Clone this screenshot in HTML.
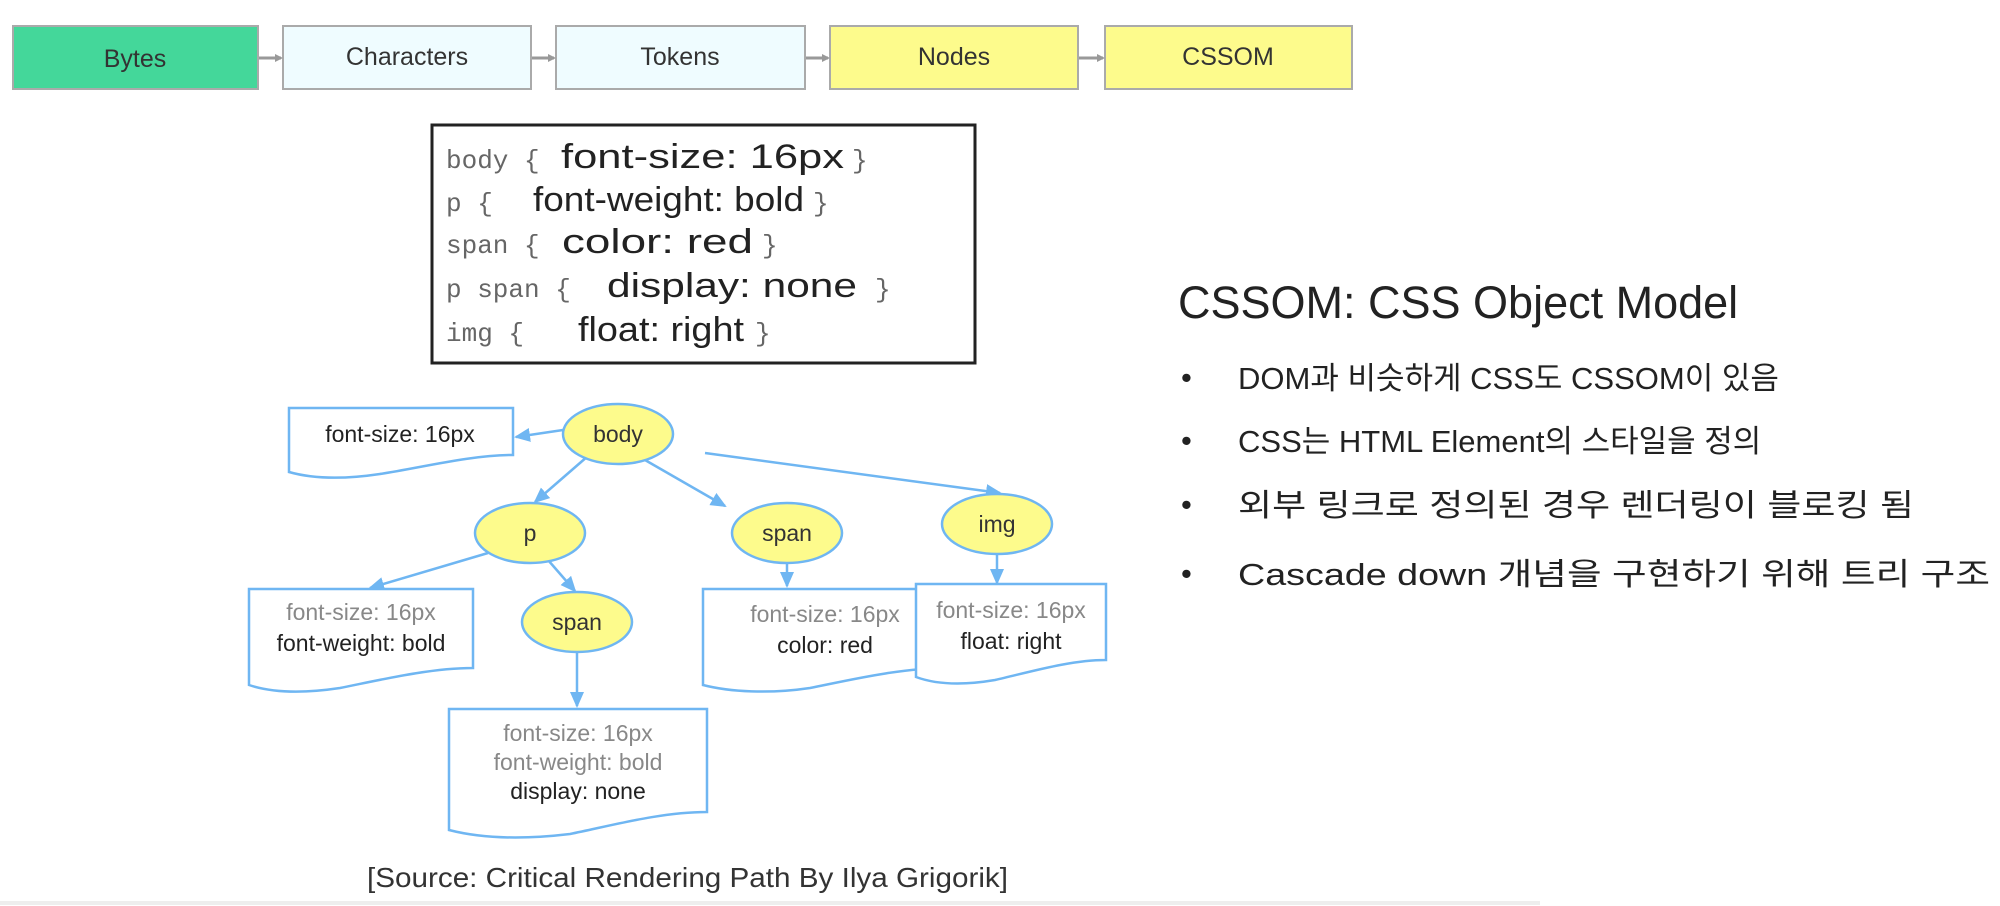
<!DOCTYPE html>
<html><head><meta charset="utf-8"><style>
html,body{margin:0;padding:0;background:#fff;width:2000px;height:906px;overflow:hidden}
svg text{font-family:"Liberation Sans","Noto Sans CJK KR",sans-serif}
svg text.m{font-family:"Liberation Mono",monospace}
</style></head><body>
<svg width="2000" height="906" viewBox="0 0 2000 906" xmlns="http://www.w3.org/2000/svg">
<defs>
<marker id="ga" markerWidth="8" markerHeight="8" refX="6" refY="4" orient="auto" markerUnits="userSpaceOnUse"><path d="M0,0 L8,4 L0,8 z" fill="#999"/></marker>
<marker id="ba" markerWidth="16" markerHeight="14" refX="14" refY="7" orient="auto" markerUnits="userSpaceOnUse"><path d="M0,0 L16,7 L0,14 z" fill="#6fb6f2"/></marker>
</defs>
<g font-size="25" fill="#333" text-anchor="middle">
<rect x="13" y="26" width="245" height="63" fill="#44d79a" stroke="#aaa" stroke-width="2"/>
<text x="135" y="67">Bytes</text>
<rect x="283" y="26" width="248" height="63" fill="#effcff" stroke="#aaa" stroke-width="2"/>
<text x="407" y="65">Characters</text>
<rect x="556" y="26" width="249" height="63" fill="#effcff" stroke="#aaa" stroke-width="2"/>
<text x="680" y="65">Tokens</text>
<rect x="830" y="26" width="248" height="63" fill="#fdfb8c" stroke="#aaa" stroke-width="2"/>
<text x="954" y="65">Nodes</text>
<rect x="1105" y="26" width="247" height="63" fill="#fdfb8c" stroke="#aaa" stroke-width="2"/>
<text x="1228" y="65">CSSOM</text>
</g>
<g stroke="#999" stroke-width="3" marker-end="url(#ga)">
<line x1="259" y1="58" x2="281" y2="58"/><line x1="532" y1="58" x2="554" y2="58"/>
<line x1="806" y1="58" x2="828" y2="58"/><line x1="1079" y1="58" x2="1103" y2="58"/>
</g>
<rect x="432" y="125" width="543" height="238" fill="#fff" stroke="#222" stroke-width="3"/>
<g font-size="26" fill="#666">
<text class="m" x="446" y="168">body {</text><text class="m" x="852" y="168">}</text>
<text class="m" x="446" y="211">p {</text><text class="m" x="813" y="211">}</text>
<text class="m" x="446" y="253">span {</text><text class="m" x="762" y="253">}</text>
<text class="m" x="446" y="297">p span {</text><text class="m" x="875" y="297">}</text>
<text class="m" x="446" y="341">img {</text><text class="m" x="755" y="341">}</text>
</g>
<g font-size="34" fill="#222">
<text x="561" y="168" textLength="283" lengthAdjust="spacingAndGlyphs">font-size: 16px</text>
<text x="533" y="211" textLength="271" lengthAdjust="spacingAndGlyphs">font-weight: bold</text>
<text x="562" y="253" textLength="191" lengthAdjust="spacingAndGlyphs">color: red</text>
<text x="607" y="297" textLength="250" lengthAdjust="spacingAndGlyphs">display: none</text>
<text x="578" y="341" textLength="166" lengthAdjust="spacingAndGlyphs">float: right</text>
</g>
<g stroke="#6fb6f2" stroke-width="2.5" fill="none" marker-end="url(#ba)">
<line x1="563" y1="430" x2="516" y2="437"/>
<line x1="588" y1="456" x2="535" y2="502"/>
<line x1="645" y1="460" x2="725" y2="506"/>
<line x1="705" y1="453" x2="1000" y2="493"/>
<line x1="488" y1="553" x2="370" y2="588"/>
<line x1="548" y1="560" x2="575" y2="591"/>
<line x1="787" y1="564" x2="787" y2="586"/>
<line x1="997" y1="555" x2="997" y2="583"/>
<line x1="577" y1="653" x2="577" y2="706"/>
</g>
<g fill="#fff" stroke="#6fb6f2" stroke-width="2.5">
<path d="M289,408 H513 V455 C470,455 420,468 380,474 C340,480 310,478 289,472 Z"/>
<path d="M249,589 H473 V668 C430,668 380,680 340,688 C300,694 270,692 249,685 Z"/>
<path d="M703,589 H948 V668 C900,668 850,680 810,688 C770,694 730,692 703,685 Z"/>
<path d="M916,584 H1106 V660 C1070,660 1030,672 995,680 C960,686 935,684 916,677 Z"/>
<path d="M449,709 H707 V812 C660,812 610,826 570,834 C520,840 480,838 449,830 Z"/>
</g>
<g font-size="23" text-anchor="middle">
<text x="400" y="442" fill="#222">font-size: 16px</text>
<text x="361" y="620" fill="#888">font-size: 16px</text>
<text x="361" y="651" fill="#222">font-weight: bold</text>
<text x="825" y="622" fill="#888">font-size: 16px</text>
<text x="825" y="653" fill="#222">color: red</text>
<text x="1011" y="618" fill="#888">font-size: 16px</text>
<text x="1011" y="649" fill="#222">float: right</text>
<text x="578" y="741" fill="#888">font-size: 16px</text>
<text x="578" y="770" fill="#888">font-weight: bold</text>
<text x="578" y="799" fill="#222">display: none</text>
</g>
<g fill="#fdfb8c" stroke="#6fb6f2" stroke-width="2.5">
<ellipse cx="618" cy="434" rx="55" ry="30"/>
<ellipse cx="530" cy="533" rx="55" ry="30"/>
<ellipse cx="577" cy="622" rx="55" ry="30"/>
<ellipse cx="787" cy="533" rx="55" ry="30"/>
<ellipse cx="997" cy="524" rx="55" ry="30"/>
</g>
<g font-size="23" fill="#333" text-anchor="middle">
<text x="618" y="442">body</text>
<text x="530" y="541">p</text>
<text x="577" y="630">span</text>
<text x="787" y="541">span</text>
<text x="997" y="532">img</text>
</g>
<text x="367" y="887" font-size="28" fill="#333" textLength="641" lengthAdjust="spacingAndGlyphs">[Source: Critical Rendering Path By Ilya Grigorik]</text>
<text x="1178" y="318" font-size="45" fill="#222">CSSOM: CSS Object Model</text>
<g font-size="31" fill="#222">
<text x="1181" y="388">•</text><text x="1238" y="389">DOM과 비슷하게 CSS도 CSSOM이 있음</text>
<text x="1181" y="451">•</text><text x="1238" y="452">CSS는 HTML Element의 스타일을 정의</text>
<text x="1181" y="515">•</text><text x="1238" y="516" textLength="676" lengthAdjust="spacingAndGlyphs">외부 링크로 정의된 경우 렌더링이 블로킹 됨</text>
<text x="1181" y="584">•</text><text x="1238" y="585" textLength="752" lengthAdjust="spacingAndGlyphs">Cascade down 개념을 구현하기 위해 트리 구조</text>
</g>
<line x1="0" y1="903" x2="1540" y2="903" stroke="#eee" stroke-width="4"/>
</svg>
</body></html>
